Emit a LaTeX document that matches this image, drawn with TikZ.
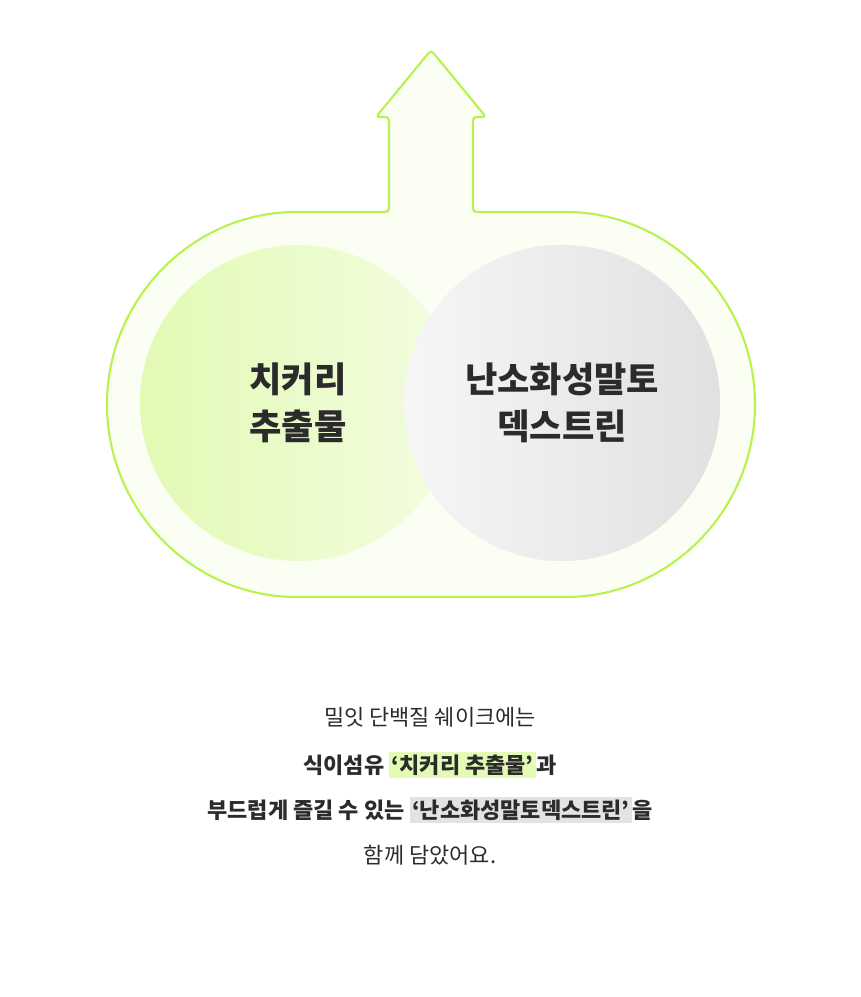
\documentclass[tikz,border=0pt]{standalone}
\usepackage{fontspec}
\setmainfont{Noto Sans CJK KR}
\usetikzlibrary{positioning}
\definecolor{limeline}{HTML}{B8F24E}
\definecolor{limefill}{HTML}{FBFEF3}
\definecolor{limeball}{HTML}{E2FAB4}
\definecolor{greyball}{HTML}{E1E1E1}
\definecolor{inktext}{HTML}{2B2B2B}
\definecolor{hilime}{HTML}{E4FBB6}
\definecolor{higrey}{HTML}{E3E3E3}
\newcommand{\hlbox}[2]{{\setlength{\fboxsep}{1.5pt}\colorbox{#1}{#2}}}
\begin{document}
\begin{tikzpicture}[x=0.02cm,y=0.02cm,
  ball/.style={circle,minimum size=316*0.02cm,inner sep=0pt},
  balltext/.style={font=\bfseries\fontsize{20}{27}\selectfont,text=inktext,align=center},
  caption/.style={font=\fontsize{12.5}{15}\selectfont,text=inktext}]
  \useasboundingbox (0,0) rectangle (860,997);

  \draw [line width=1.2pt,color=limeline,fill=limefill,rounded corners=2pt]
    (473,785) -- (562.5,785) arc (90:-90:192.5) -- (299.5,400) arc (270:90:192.5)
    -- (389,785) -- (389,880) -- (376,880) -- (431,947) -- (486,880) -- (473,880) -- cycle;

  \node [ball,left color=limeball,right color=limeball!40!white] (chicory) at (298,594) {};
  \node [ball,left color=white!60!greyball,right color=greyball,shading angle=90,
         opacity=0.9] (dextrin) at (562,594) {};
  \shade [left color=greyball!30!white,right color=greyball] (562,594) circle (158);

  \node [balltext] (chicorytext) at (chicory) {치커리\\추출물};
  \node [balltext] (dextrintext) at (dextrin) {난소화성말토\\덱스트린};

  \node [caption] (line1) at (430,280) {밀잇 단백질 쉐이크에는};
  \node [caption,font=\bfseries\fontsize{12.5}{15}\selectfont] (line2) at (430,232)
    {식이섬유 \hlbox{hilime}{‘치커리 추출물’}과};
  \node [caption,font=\bfseries\fontsize{12.5}{15}\selectfont] (line3) at (430,187)
    {부드럽게 즐길 수 있는 \hlbox{higrey}{‘난소화성말토덱스트린’}을};
  \node [caption] (line4) at (430,142) {함께 담았어요.};
\end{tikzpicture}
\end{document}
